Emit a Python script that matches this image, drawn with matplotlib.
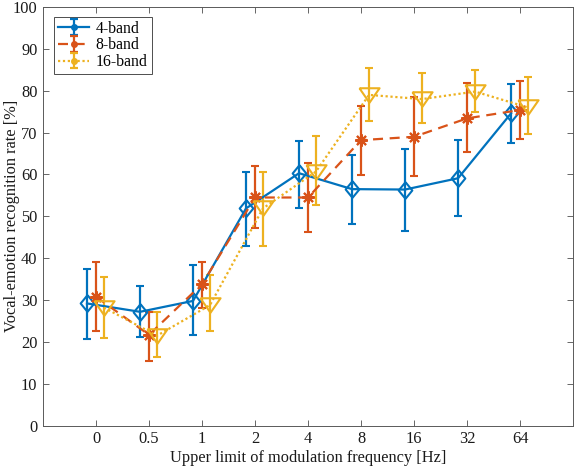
import matplotlib.pyplot as plt
import numpy as np

plt.rcParams["font.family"] = ["Liberation Serif", "DejaVu Serif"]
plt.rcParams["font.size"] = 11.8

# data
freqs = ["0", "0.5", "1", "2", "4", "8", "16", "32", "64"]

band4 = [29.2, 27.2, 29.8, 51.9, 60.3, 56.5, 56.4, 59.1, 74.6]
band4_lo = [20.7, 21.1, 21.7, 43.0, 51.9, 48.1, 46.5, 50.1, 67.4]
band4_hi = [37.4, 33.4, 38.4, 60.5, 68.1, 64.7, 66.1, 68.2, 81.6]

band8 = [30.8, 21.7, 33.8, 54.5, 54.5, 68.2, 69.0, 73.4, 75.4]
band8_lo = [22.7, 15.5, 28.0, 47.1, 46.3, 59.9, 59.7, 65.4, 68.4]
band8_hi = [39.0, 27.2, 39.0, 62.0, 62.8, 76.4, 78.6, 81.8, 82.4]

band16 = [28.2, 21.5, 28.8, 51.9, 60.7, 79.0, 78.0, 79.8, 76.0]
band16_lo = [20.9, 16.5, 22.5, 42.9, 52.7, 72.8, 72.3, 75.0, 69.6]
band16_hi = [35.4, 27.2, 36.0, 60.7, 69.2, 85.4, 84.2, 85.0, 83.2]

labels = ["4-band", "8-band", "16-band"]
colors = ["#0072BD", "#D95319", "#EDB120"]

# MATLAB-like marker shapes
diamond = [(0, 1), (0.82, 0), (0, -1), (-0.82, 0), (0, 1)]
tri_down = [(-1, 0.72), (1, 0.72), (0, -0.72), (-1, 0.72)]

fig, ax = plt.subplots(figsize=(5.78, 4.75), dpi=100)
fig.subplots_adjust(left=0.0744, right=0.9915, bottom=0.1038, top=0.9853)

x = np.arange(1, len(freqs) + 1)
series = [(band4, band4_lo, band4_hi), (band8, band8_lo, band8_hi),
          (band16, band16_lo, band16_hi)]
offsets = [-0.17, 0.0, 0.15]
styles = [dict(ls="-", marker=diamond, ms=12),
          dict(ls=(0, (4.5, 3)), marker=(8, 2, 0), ms=9),
          dict(ls=(0, (1, 1.2)), marker=tri_down, ms=14.5)]

handles = []
for (y, lo, hi), off, c, st, lab in zip(series, offsets, colors, styles, labels):
    y = np.array(y)
    err = [y - np.array(lo), np.array(hi) - y]
    ax.errorbar(x + off, y, yerr=err, color=c, lw=1.6, capsize=2.6,
                capthick=1.6, elinewidth=1.6, ls=st["ls"], marker=st["marker"],
                ms=st["ms"], mfc="none", mew=1.5, mec=c)
    # small proxy for the legend, drawn off the axes
    h = ax.errorbar([-5], [50], yerr=[[4], [4]], color=c, lw=1.6, capsize=2.6,
                    capthick=1.6, ls=st["ls"], marker="o", ms=4, mfc=c,
                    mec=c, label=lab)
    handles.append(h)

ax.set_xlim(0, 10)
ax.set_ylim(0, 100)
ax.set_xticks(x)
ax.set_xticklabels(freqs)
ax.set_yticks(np.arange(0, 101, 10))
ax.tick_params(direction="in", top=True, right=True, length=4, width=0.6,
               color="0.3", labelcolor="0.1", pad=4)
for s in ax.spines.values():
    s.set_color("0.35")
    s.set_linewidth(0.7)

ax.set_xlabel("Upper limit of modulation frequency [Hz]", color="0.1", labelpad=2)
ax.set_ylabel("Vocal-emotion recognition rate [%]", color="0.1")
ax.yaxis.set_label_coords(-0.043, 0.5)

leg = ax.legend(handles=handles, loc="upper left", fancybox=False,
                edgecolor="0.3", framealpha=1, handlelength=2.0,
                handletextpad=0.4, borderpad=0.25, labelspacing=0.05,
                fontsize=11.3, bbox_to_anchor=(0.021, 0.977),
                borderaxespad=0)
leg.get_frame().set_linewidth(0.7)

fig.savefig("out.png", dpi=100)
